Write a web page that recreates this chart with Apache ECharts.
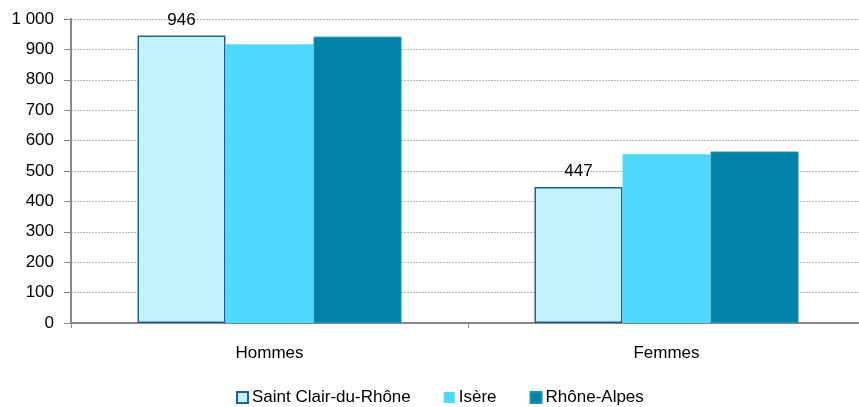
<!DOCTYPE html>
<html>
<head>
<meta charset="utf-8">
<script src="https://cdn.jsdelivr.net/npm/echarts@6/dist/echarts.min.js"></script>
<style>
html, body { margin: 0; padding: 0; background: #fff; overflow: hidden; }
#chart { width: 865px; height: 407px; }
</style>
</head>
<body>
<div id="chart"></div>
<script>
var categories = ['Hommes', 'Femmes'];
var seriesNames = ['Saint Clair-du-Rhône', 'Isère', 'Rhône-Alpes'];
var saintClair = [946, 447];
var isere = [917, 555];
var rhoneAlpes = [942, 564];

var colors = ['#C4F2FC', '#4FD9FF', '#0083A6'];
var font = 'Liberation Sans, Arial, sans-serif';

// the plot area runs a few pixels past the right edge of the window, as in the original
var myChart = echarts.init(document.getElementById('chart'));

var option = {
    animation: false,
    textStyle: { fontFamily: font },
    grid: { left: 71, top: 19, right: 0, bottom: 84, containLabel: false },
    legend: {
        top: 384,
        left: 231,
        icon: 'rect',
        itemWidth: 11,
        itemHeight: 11,
        itemGap: 33,
        textStyle: { fontSize: 17, color: '#000', fontFamily: font, padding: [0, 0, 0, -1] },
        data: seriesNames
    },
    xAxis: {
        type: 'category',
        data: categories,
        axisLine: { lineStyle: { color: '#888', width: 2 } },
        axisTick: { show: true, length: 5, lineStyle: { color: '#888' } },
        axisLabel: { color: '#000', fontSize: 17, margin: 22, fontFamily: font }
    },
    yAxis: {
        type: 'value',
        min: 0,
        max: 1000,
        interval: 100,
        axisLine: { show: true, lineStyle: { color: '#888', width: 2 } },
        axisTick: { show: true, length: 7, lineStyle: { color: '#888' } },
        axisLabel: {
            color: '#000', fontSize: 17, margin: 17, fontFamily: font,
            formatter: function (v) { return v >= 1000 ? '1 000' : String(v); }
        },
        splitLine: { lineStyle: { color: '#b8b8b8', type: [2, 1], width: 1 } }
    },
    series: [{
        name: seriesNames[0],
        type: 'bar',
        data: saintClair,
        barGap: 0,
        barCategoryGap: '33.5%',
        itemStyle: { color: colors[0], borderColor: '#25618F', borderWidth: 1.5 },
        label: { show: true, position: 'top', distance: 7, color: '#000', fontSize: 17, fontFamily: font }
    }, {
        name: seriesNames[1],
        type: 'bar',
        data: isere,
        barGap: 0,
        barCategoryGap: '33.5%',
        itemStyle: { color: colors[1] }
    }, {
        name: seriesNames[2],
        type: 'bar',
        data: rhoneAlpes,
        barGap: 0,
        barCategoryGap: '33.5%',
        itemStyle: { color: colors[2], borderColor: '#1A90B0', borderWidth: 1 }
    }]
};

myChart.setOption(option);
</script>
</body>
</html>
